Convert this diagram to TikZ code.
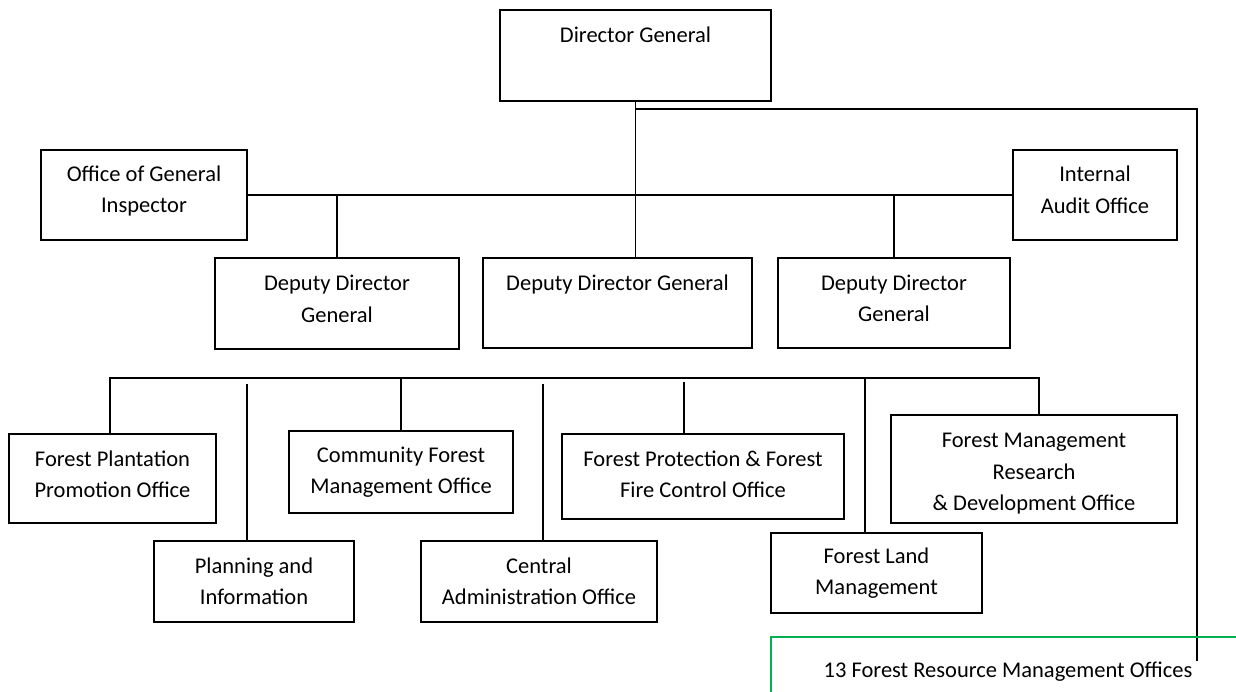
\documentclass[tikz,border=0pt]{standalone}
\usepackage{fontspec}
\setmainfont{Carlito}
\definecolor{frmgreen}{RGB}{0,176,80}

\begin{document}
\begin{tikzpicture}[
    x=1pt, y=-1pt,
    line width=1.8pt,
    every node/.style={font=\fontsize{22.5}{31.5}\selectfont, align=center},
    office/.style={draw, inner sep=0pt}
  ]
  \useasboundingbox (0,0) rectangle (1236,692);
  \node (dg) [office, minimum width=271pt, minimum height=91pt] at (635.5,55.5) {Director General\\[10pt]\mbox{}};
  \node (ogi) [office, minimum width=206pt, minimum height=90pt] at (144,195) {Office of General\\Inspector\\[-20pt]\mbox{}};
  \node (audit) [office, minimum width=164pt, minimum height=90pt] at (1095,195) {Internal\\Audit Office\\[-21pt]\mbox{}};
  \node (ddg1) [office, minimum width=244pt, minimum height=91pt] at (337,303.5) {Deputy Director\\General\\[-22pt]\mbox{}};
  \node (ddg2) [office, minimum width=269pt, minimum height=90pt] at (617.5,303) {Deputy Director General\\[10pt]\mbox{}};
  \node (ddg3) [office, minimum width=232pt, minimum height=90pt] at (894,303) {Deputy Director\\General\\[-22pt]\mbox{}};
  \node (fpp) [office, minimum width=207pt, minimum height=89pt] at (112.5,478.5) {Forest Plantation\\Promotion Office\\[-23pt]\mbox{}};
  \node (plan) [office, minimum width=200pt, minimum height=81pt] at (254,581.5) {Planning and\\Information};
  \node (cfm) [office, minimum width=224pt, minimum height=82pt] at (401,472) {Community Forest\\Management Office};
  \node (cao) [office, minimum width=236pt, minimum height=81pt] at (539,581.5) {Central\\Administration Office};
  \node (prot) [office, minimum width=282pt, minimum height=85pt] at (703,476.5) {Forest Protection \& Forest\\Fire Control Office\\[-27pt]\mbox{}};
  \node (land) [office, minimum width=211pt, minimum height=80pt] at (876.5,573) {Forest Land\\Management};
  \node (rd) [office, minimum width=286pt, minimum height=108pt] at (1034,469) {\mbox{}\\[-7pt]Forest Management\\Research\\\& Development Office};
  \node (frmo) [inner xsep=4pt, inner ysep=0pt] at (1008,672) {13 Forest Resource Management Offices};

  \coordinate (top) at (636,109);
  \coordinate (bus-l) at (110,378);
  \coordinate (bus-r) at (1039,378);
  \coordinate (d-plan) at (247,384);
  \coordinate (d-cao) at (543,384);
  \coordinate (d-prot) at (684,382);
  \coordinate (d-land) at (865,378);

  \draw (dg.south) -- (dg.south |- ddg2.north);
  \draw (dg.south |- top) -| (frmo.north east);
  \draw (ogi.east) -- (audit.west);
  \draw (ddg1.north) -- (ddg1.north |- ogi.east);
  \draw (ddg3.north) -- (ddg3.north |- audit.west);
  \draw (bus-l |- fpp.north) -- (bus-l) -- (bus-r) -- (bus-r |- rd.north);
  \draw (cfm.north) -- (cfm.north |- bus-l);
  \draw (d-plan) -- (d-plan |- plan.north);
  \draw (d-cao) -- (d-cao |- cao.north);
  \draw (d-prot) -- (d-prot |- prot.north);
  \draw (d-land) -- (d-land |- land.north);
  \draw [frmgreen] (771,692) -- (771,637) -- (1236,637);
\end{tikzpicture}
\end{document}
